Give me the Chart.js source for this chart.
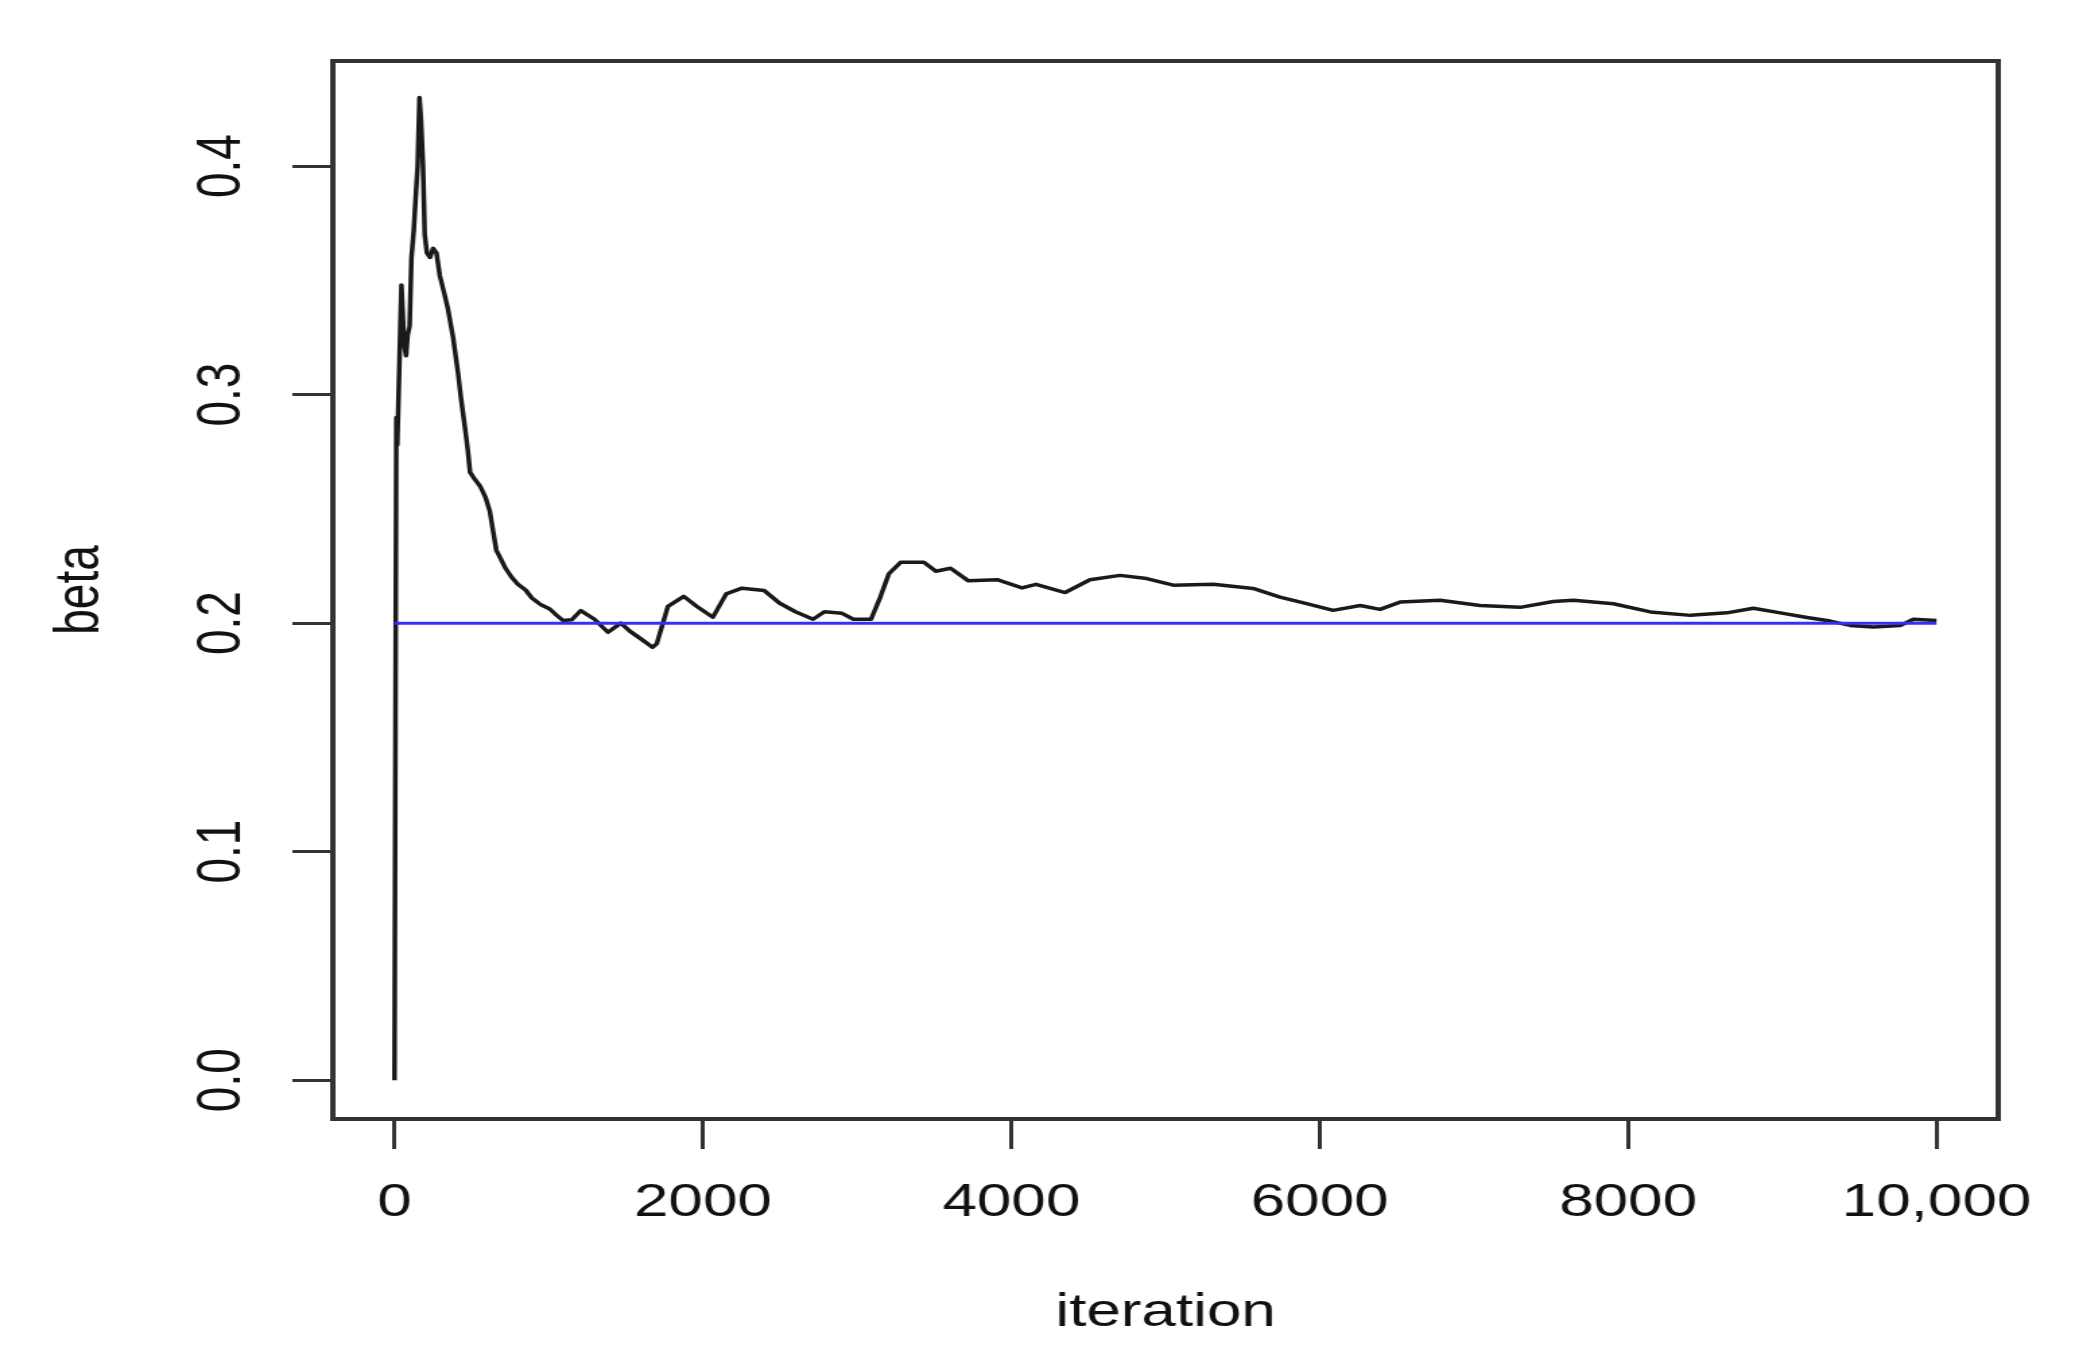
<!DOCTYPE html>
<html>
<head>
<meta charset="utf-8">
<title>beta trace</title>
<script src="https://cdn.jsdelivr.net/npm/chart.js@4.4.1/dist/chart.umd.min.js"></script>
<style>
  html, body { margin: 0; padding: 0; background: #fff; }
</style>
</head>
<body>
<!-- the reference picture is stretched sideways, so the canvas is drawn narrower and widened by CSS -->
<canvas id="betaChart" width="1540" height="1360" style="width:2075px;height:1360px"></canvas>
<script>
// running mean of beta
const iterations = [
  0, 8, 12, 18, 25, 35, 45, 52, 62, 75, 85, 98, 110, 125, 138, 150, 162, 172, 185, 196,
  210, 230, 250, 272, 294, 320, 345, 380, 413, 430, 456, 475, 490, 520, 555, 590, 618, 640, 660, 690,
  720, 761, 800, 850, 891, 950, 1007, 1050, 1092, 1150, 1208, 1297, 1384, 1468, 1526, 1600, 1673, 1701, 1773, 1876,
  1961, 2065, 2151, 2253, 2397, 2498, 2600, 2714, 2788, 2902, 2976, 3090, 3148, 3206, 3282, 3433, 3511, 3606, 3722, 3908,
  4069, 4160, 4349, 4510, 4705, 4878, 5050, 5309, 5568, 5742, 5915, 6087, 6262, 6391, 6521, 6780, 7040, 7300, 7514, 7645,
  7904, 8144, 8404, 8640, 8812, 8987, 9160, 9310, 9440, 9590, 9765, 9850, 10000
];
const betaMean = [
  0.000, 0.200, 0.290, 0.278, 0.296, 0.322, 0.348, 0.338, 0.322, 0.317, 0.326, 0.330, 0.360, 0.372, 0.387, 0.400, 0.430, 0.420, 0.400, 0.370,
  0.362, 0.360, 0.364, 0.362, 0.352, 0.345, 0.338, 0.325, 0.309, 0.299, 0.286, 0.276, 0.266, 0.263, 0.260, 0.255, 0.249, 0.240, 0.232, 0.228,
  0.224, 0.220, 0.217, 0.2145, 0.211, 0.208, 0.2062, 0.2035, 0.2012, 0.2015, 0.2055, 0.2017, 0.1960, 0.2000, 0.1965, 0.1930, 0.1894, 0.1910, 0.2073, 0.2117,
  0.2073, 0.2026, 0.2128, 0.2153, 0.2143, 0.2087, 0.2050, 0.2017, 0.2050, 0.2043, 0.2017, 0.2017, 0.2110, 0.2216, 0.2266, 0.2266, 0.2227, 0.2240, 0.2185, 0.2190,
  0.2154, 0.2170, 0.2134, 0.2190, 0.2209, 0.2195, 0.2166, 0.2170, 0.2152, 0.2114, 0.2085, 0.2056, 0.2077, 0.2060, 0.2092, 0.2100, 0.2077, 0.2069, 0.2095, 0.2100,
  0.2085, 0.2049, 0.2034, 0.2045, 0.2065, 0.2045, 0.2025, 0.2009, 0.1990, 0.1983, 0.1990, 0.2017, 0.2012
];

// true value line
const trueBeta = 0.2;
const trueSpan = [0, 10000];

// axes
const xTicks = [0, 2000, 4000, 6000, 8000, 10000];
const xTickLabels = ['0', '2000', '4000', '6000', '8000', '10,000'];
const yTicks = [0, 0.1, 0.2, 0.3, 0.4];
const yTickLabels = ['0.0', '0.1', '0.2', '0.3', '0.4'];

Chart.defaults.font.family = '"Liberation Sans", Arial, Helvetica, sans-serif';
Chart.defaults.color = '#111';

// box round the plot area, like R's plot frame
const plotFrame = {
  id: 'plotFrame',
  afterDatasetsDraw(chart) {
    const { ctx, chartArea: a } = chart;
    ctx.save();
    ctx.strokeStyle = '#333';
    ctx.lineWidth = 4;
    ctx.strokeRect(a.left, a.top, a.right - a.left, a.bottom - a.top);
    ctx.restore();
  }
};

const tickGrid = { drawOnChartArea: false, drawTicks: true, tickLength: 30, color: '#333', lineWidth: 3 };

new Chart(document.getElementById('betaChart'), {
  type: 'line',
  data: {
    datasets: [
      {
        label: 'true beta',
        data: trueSpan.map(x => ({ x: x, y: trueBeta })),
        borderColor: '#3030ff',
        borderWidth: 3,
        pointRadius: 0
      },
      {
        label: 'beta',
        data: iterations.map((x, i) => ({ x: x, y: betaMean[i] })),
        borderColor: '#1a1a1a',
        borderWidth: 3.5,
        borderJoinStyle: 'round',
        pointRadius: 0,
        tension: 0
      }
    ]
  },
  options: {
    responsive: false,
    devicePixelRatio: 1,
    animation: false,
    events: [],
    layout: { padding: { top: 61, right: 57, left: 0, bottom: 0 } },
    plugins: {
      legend: { display: false },
      tooltip: { enabled: false }
    },
    scales: {
      x: {
        type: 'linear',
        min: -400,
        max: 10400,
        afterBuildTicks: s => { s.ticks = xTicks.map(v => ({ value: v })); },
        afterFit: s => { s.height = 241; },
        grid: tickGrid,
        border: { display: false },
        ticks: {
          autoSkip: false,
          maxRotation: 0,
          padding: 27,
          font: { size: 46 },
          callback: (v, i) => xTickLabels[i]
        },
        title: { display: true, text: 'iteration', font: { size: 46 }, padding: { top: 0, bottom: 19 } }
      },
      y: {
        type: 'linear',
        min: -0.017,
        max: 0.446,
        afterBuildTicks: s => { s.ticks = yTicks.map(v => ({ value: v })); },
        afterFit: s => { s.width = 247; },
        grid: tickGrid,
        border: { display: false },
        ticks: {
          autoSkip: false,
          minRotation: 90,
          maxRotation: 90,
          crossAlign: 'center',
          padding: 20,
          font: { size: 46 },
          callback: (v, i) => yTickLabels[i]
        },
        title: { display: true, text: 'beta', font: { size: 46 }, padding: { top: 33, bottom: 0 } }
      }
    }
  },
  plugins: [plotFrame]
});
</script>
</body>
</html>
